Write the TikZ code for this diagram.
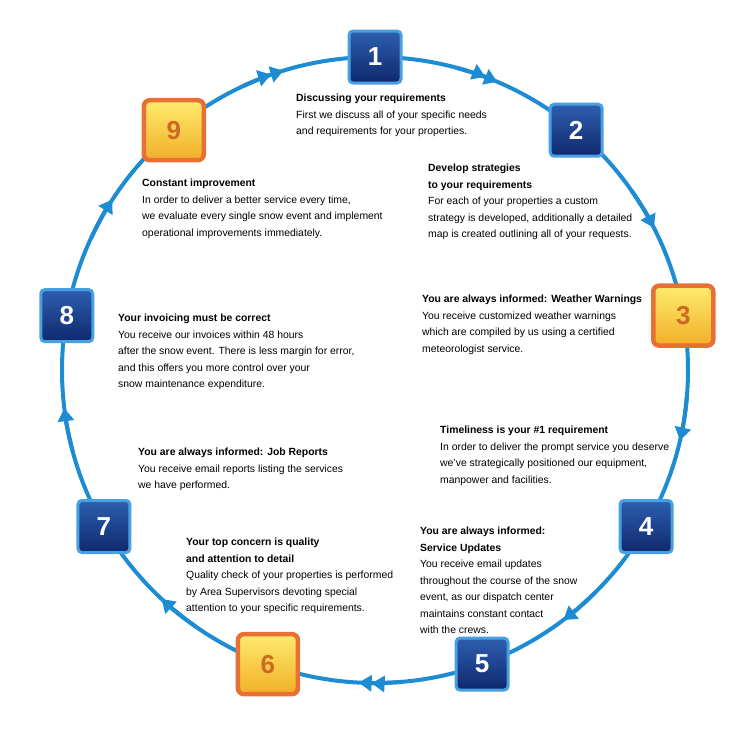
\documentclass[tikz,border=0pt]{standalone}
\usepackage{fontspec}
\setmainfont{Liberation Sans}
\usetikzlibrary{arrows.meta,positioning}
\definecolor{ring}{RGB}{30,140,210}
\definecolor{navytop}{RGB}{45,95,175}
\definecolor{navybot}{RGB}{15,40,110}
\definecolor{rim}{RGB}{70,160,225}
\definecolor{sunA}{RGB}{255,235,110}
\definecolor{sunB}{RGB}{240,175,40}
\definecolor{rust}{RGB}{232,112,52}
\definecolor{numrust}{RGB}{205,105,35}
\tikzset{
  bluebox/.style={rectangle, rounded corners=4pt, minimum size=52pt, draw=rim, line width=3pt,
    top color=navytop, bottom color=navybot, text=white, font=\fontsize{26}{26}\selectfont\bfseries},
  goldbox/.style={rectangle, rounded corners=6pt, minimum size=60pt, draw=rust, line width=4.5pt,
    top color=sunA, bottom color=sunB, text=numrust, font=\fontsize{26}{26}\selectfont\bfseries},
  info/.style={anchor=north west, align=left, inner sep=0pt, font=\fontsize{10.4}{16.5}\selectfont},
  one/.style={-{Triangle[length=13pt,width=16pt]}},
  two/.style={-{Triangle[length=13pt,width=16pt]Triangle[length=13pt,width=16pt]}}
}
\begin{document}
\begin{tikzpicture}[x=1pt,y=-1pt]
  \useasboundingbox (0,0) rectangle (750,737);
  \coordinate (c) at (375,370);
  \draw[ring, line width=4pt] (c) circle (313);
  % arrows between the steps
  \foreach \a/\s in {70/two,110/two,-90/two,30/one,-10/one,-50/one,150/one,190/one,230/one}
    \draw[ring, line width=4pt, \s] ([shift={(-\a-5:313)}]c) arc[start angle=-\a-5, end angle=-\a+3, radius=313];
  % steps
  \node[bluebox] (s1) at ([shift={(-90:313)}]c) {1};
  \node[bluebox] (s2) at ([shift={(-50:313)}]c) {2};
  \node[goldbox] (s3) at ([shift={(-10:313)}]c) {3};
  \node[bluebox] (s4) at ([shift={(30:313)}]c) {4};
  \node[bluebox] (s5) at ([shift={(70:313)}]c) {5};
  \node[goldbox] (s6) at ([shift={(110:313)}]c) {6};
  \node[bluebox] (s7) at ([shift={(150:313)}]c) {7};
  \node[bluebox] (s8) at ([shift={(-170:313)}]c) {8};
  \node[goldbox] (s9) at ([shift={(-130:313)}]c) {9};
  % texts
  \node[info] (t1) at (296,94) {\textbf{Discussing your requirements}\\First we discuss all of your specific needs\\and requirements for your properties.};
  \node[info] (t2) at (428,164) {\textbf{Develop strategies}\\\textbf{to your requirements}\\For each of your properties a custom\\strategy is developed, additionally a detailed\\map is created outlining all of your requests.};
  \node[info] (t3) at (422,295) {\textbf{You are always informed: Weather Warnings}\\You receive customized weather warnings\\which are compiled by us using a certified\\meteorologist service.};
  \node[info] (t4) at (440,426) {\textbf{Timeliness is your \#1 requirement}\\In order to deliver the prompt service you deserve\\we've strategically positioned our equipment,\\manpower and facilities.};
  \node[info] (t5) at (420,527) {\textbf{You are always informed:}\\\textbf{Service Updates}\\You receive email updates\\throughout the course of the snow\\event, as our dispatch center\\maintains constant contact\\with the crews.};
  \node[info] (t6) at (186,538) {\textbf{Your top concern is quality}\\\textbf{and attention to detail}\\Quality check of your properties is performed\\by Area Supervisors devoting special\\attention to your specific requirements.};
  \node[info] (t7) at (138,448) {\textbf{You are always informed: Job Reports}\\You receive email reports listing the services\\we have performed.};
  \node[info] (t8) at (118,314) {\textbf{Your invoicing must be correct}\\You receive our invoices within 48 hours\\after the snow event. There is less margin for error,\\and this offers you more control over your\\snow maintenance expenditure.};
  \node[info] (t9) at (142,179) {\textbf{Constant improvement}\\In order to deliver a better service every time,\\we evaluate every single snow event and implement\\operational improvements immediately.};
\end{tikzpicture}
\end{document}
